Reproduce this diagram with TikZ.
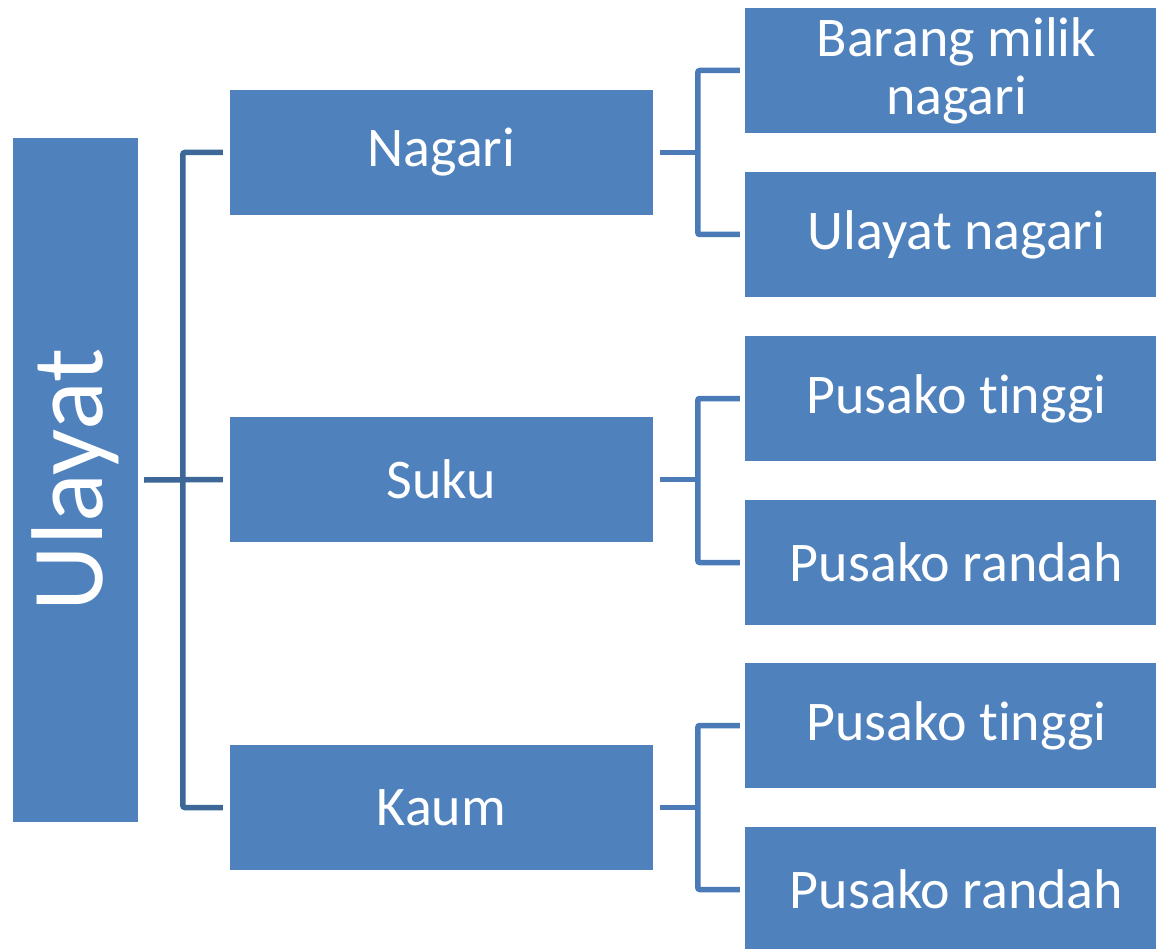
\documentclass[tikz,border=0pt]{standalone}
\usepackage{fontspec}
\setmainfont{Carlito}[RawFeature={-liga;-clig;-calt;-dlig}]
\definecolor{boxblue}{HTML}{4F81BD}
\definecolor{trunk}{HTML}{3D6797}
\definecolor{branch}{HTML}{4A7BB7}
\tikzset{
  item/.style={fill=boxblue, draw=none, text=white, inner sep=0pt,
    minimum width=423pt, minimum height=125pt, align=center,
    font=\fontsize{56}{58}\selectfont},
  trunkline/.style={draw=trunk, line width=5.5pt, rounded corners=2pt},
  branchline/.style={draw=branch, line width=5.5pt, rounded corners=2pt}
}
\begin{document}
\begin{tikzpicture}[x=1pt,y=-1pt]
\useasboundingbox (0,0) rectangle (1156,949);
\clip (0,0) rectangle (1156,949);
% root box with vertical title
\node[fill=boxblue, draw=none, inner sep=0pt, minimum width=125pt, minimum height=684pt] (ulayat) at (75.5,480) {};
\node[rotate=90, text=white, inner sep=0pt, font=\fontsize{102}{104}\selectfont] (ulayattext) at (ulayat.center) {Ulayat};
% second level
\node[item] (nagari) at (441.5,152.5) {Nagari};
\node[item] (suku)   at (441.5,479.5) {Suku};
\node[item] (kaum)   at (441.5,807.5) {Kaum};
% third level (t\kern0pt i keeps t and i as separate letters)
\node[item] (r1) at (956.5,70.5)  {Barang milik\\nagari};
\node[item] (r2) at (956.5,234.5) {Ulayat nagari};
\node[item] (r3) at (956.5,398.5) {Pusako t\kern0pt inggi};
\node[item] (r4) at (956.5,562.5) {Pusako randah};
\node[item] (r5) at (956.5,725.5) {Pusako t\kern0pt inggi};
\node[item] (r6) at (956.5,889.5) {Pusako randah};
% root to second level
\draw[trunkline] ([xshift=6pt]ulayat.east) -- ([xshift=-7pt]suku.west);
\draw[trunkline] ([xshift=-7pt]nagari.west) -| ([xshift=-47pt]kaum.west) -- ([xshift=-7pt]kaum.west);
% second to third level
\foreach \m/\a/\b in {nagari/r1/r2, suku/r3/r4, kaum/r5/r6}{
  \draw[branchline] ([xshift=7pt]\m.east) -- ([xshift=45pt]\m.east);
  \draw[branchline] ([xshift=-5pt]\a.west) -| ([xshift=-47pt]\b.west) -- ([xshift=-5pt]\b.west);
}
\end{tikzpicture}
\end{document}
